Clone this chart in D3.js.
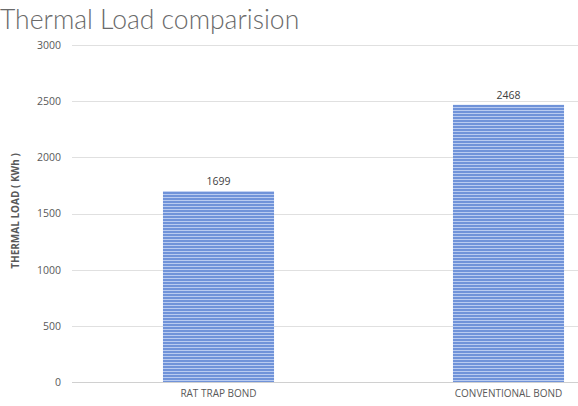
<!DOCTYPE html>
<html>
<head>
<meta charset="utf-8">
<script src="https://cdn.jsdelivr.net/npm/d3@7/dist/d3.min.js"></script>
<style>
  body { margin: 0; background: #fff; overflow: hidden; }
  svg { display: block; }
</style>
</head>
<body>
<svg id="chart" width="578" height="406"></svg>
<script>
const categories = ["RAT TRAP BOND", "CONVENTIONAL BOND"];
const loads = [1699, 2468];
const yTicks = [0, 500, 1000, 1500, 2000, 2500, 3000];

const svg = d3.select("#chart");
const W = 578, H = 406;

const x = d3.scaleBand().domain(categories).range([73.5, 653.5]).paddingInner(0.617).paddingOuter(0.3085);
const y = d3.scaleLinear().domain([0, 3000]).range([382, 45]);

// striped fill for bars
const defs = svg.append("defs");
const pat = defs.append("pattern")
  .attr("id", "stripes").attr("patternUnits", "userSpaceOnUse")
  .attr("width", 8).attr("height", 3);
pat.append("rect").attr("width", 8).attr("height", 3).attr("fill", "#7093d9");
pat.append("rect").attr("y", 2).attr("width", 8).attr("height", 1).attr("fill", "#b9cbf0");

// title
svg.append("text")
  .attr("x", 0).attr("y", 29)
  .attr("font-family", "Lato, 'Open Sans', sans-serif")
  .attr("font-weight", 300)
  .attr("font-size", 26.5)
  .attr("fill", "#6a6a6a")
  .text("Thermal Load comparision");

// gridlines
svg.append("g").selectAll("line").data(yTicks).join("line")
  .attr("x1", 72).attr("x2", W)
  .attr("y1", d => Math.round(y(d)) + 0.5).attr("y2", d => Math.round(y(d)) + 0.5)
  .attr("stroke", d => d === 0 ? "#d0d0d0" : "#e0e0e0").attr("stroke-width", 1);

// y axis labels
const yAxis = d3.axisLeft(y).tickValues(yTicks).tickFormat(d3.format("d")).tickSize(0).tickPadding(0);
const gy = svg.append("g").attr("transform", "translate(61,0)").call(yAxis);
gy.select(".domain").remove();
gy.selectAll("text")
  .attr("font-family", "'Open Sans', 'Liberation Sans', sans-serif")
  .attr("font-size", 10.5).attr("fill", "#595959");

// y axis title
svg.append("text")
  .attr("transform", "translate(19,211) rotate(-90)")
  .attr("text-anchor", "middle")
  .attr("font-family", "'Open Sans', 'Liberation Sans', sans-serif")
  .attr("font-weight", "bold").attr("font-size", 10)
  .attr("fill", "#595959")
  .text("THERMAL LOAD ( KWh )");

// bars
svg.append("g").selectAll("rect").data(loads).join("rect")
  .attr("x", (d, i) => x(categories[i]))
  .attr("width", x.bandwidth())
  .attr("y", d => y(d))
  .attr("height", d => y(0) - y(d))
  .attr("fill", "url(#stripes)");

// value labels
svg.append("g").selectAll("text").data(loads).join("text")
  .attr("x", (d, i) => x(categories[i]) + x.bandwidth() / 2)
  .attr("y", d => y(d) - 6)
  .attr("text-anchor", "middle")
  .attr("font-family", "'Open Sans', 'Liberation Sans', sans-serif")
  .attr("font-size", 10.5).attr("fill", "#404040")
  .text(d => d);

// x axis labels
const xAxis = d3.axisBottom(x).tickSize(0).tickPadding(0);
const gx = svg.append("g").attr("transform", "translate(0,397)").call(xAxis);
gx.select(".domain").remove();
gx.selectAll("text")
  .attr("dy", 0)
  .attr("font-family", "'Open Sans', 'Liberation Sans', sans-serif")
  .attr("font-size", 10).attr("fill", "#595959");
</script>
</body>
</html>
